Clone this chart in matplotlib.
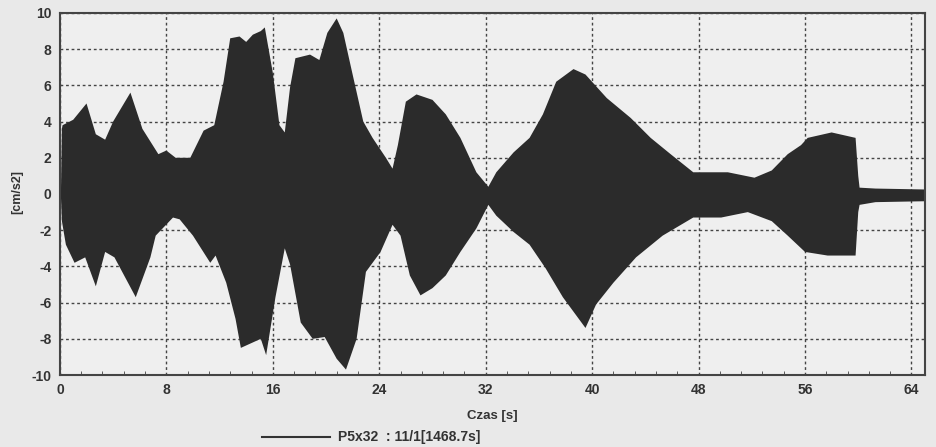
import matplotlib
matplotlib.use("Agg")
import matplotlib.pyplot as plt
from matplotlib.lines import Line2D
from matplotlib.ticker import MultipleLocator

plt.rcParams["axes.unicode_minus"] = False

# Upper envelope of the acceleration record
t_upper = [0.0, 0.08, 0.15, 0.2, 1.0, 2.0, 2.7, 3.4, 4.0, 5.3, 6.2, 7.4, 8.0, 8.7, 9.8, 10.0,
           10.8, 11.6, 12.3, 12.8, 13.5, 14.0, 14.5, 15.1, 15.4, 16.0, 16.5, 16.9, 17.3,
           17.7, 18.8, 19.5, 20.1, 20.8, 21.3, 22.0, 22.8, 23.5, 24.5, 25.0, 25.4, 26.0,
           26.8, 28.0, 29.0, 30.1, 31.3, 32.2, 32.8, 34.1, 35.3, 36.3, 37.3, 38.6, 39.5,
           41.1, 42.9, 44.4, 45.9, 47.6, 48.7, 50.2, 52.2, 53.5, 54.7, 55.7, 56.2, 58.0,
           59.8, 60.0, 60.1, 61.3, 65.0]
a_upper = [0.2, 0.2, 3.6, 3.8, 4.1, 5.0, 3.3, 3.0, 4.0, 5.6, 3.6, 2.2, 2.4, 2.0, 2.0, 2.3,
           3.5, 3.8, 6.2, 8.6, 8.7, 8.4, 8.8, 9.0, 9.2, 6.7, 3.8, 3.4, 5.9,
           7.5, 7.7, 7.4, 8.9, 9.7, 8.9, 6.6, 4.0, 3.1, 2.0, 1.4, 2.7, 5.1,
           5.5, 5.2, 4.4, 3.1, 1.2, 0.4, 1.2, 2.3, 3.1, 4.4, 6.2, 6.9, 6.6,
           5.3, 4.2, 3.1, 2.2, 1.2, 1.2, 1.2, 0.9, 1.3, 2.2, 2.7, 3.1, 3.4,
           3.1, 1.0, 0.35, 0.3, 0.25]

# Lower envelope
t_lower = [0.0, 0.08, 0.15, 0.45, 1.1, 1.9, 2.7, 3.4, 4.1, 5.7, 6.8, 7.2, 8.5, 9.0, 10.0,
           11.3, 11.7, 12.5, 13.2, 13.6, 14.5, 15.1, 15.5, 16.2, 16.9, 17.3, 18.1, 19.0,
           19.9, 20.8, 21.5, 22.3, 23.0, 24.1, 25.0, 25.6, 26.3, 27.1, 28.0, 29.0, 30.1,
           31.3, 32.2, 32.8, 34.1, 35.3, 36.5, 37.8, 38.8, 39.5, 40.3, 41.6, 43.3, 45.3,
           47.6, 49.7, 51.7, 53.5, 54.7, 56.0, 57.7, 59.8, 60.0, 60.1, 61.3, 65.0]
a_lower = [-0.2, -0.2, -1.5, -2.8, -3.8, -3.5, -5.1, -3.2, -3.5, -5.7, -3.5, -2.3, -1.3, -1.4, -2.3,
           -3.8, -3.4, -4.9, -6.9, -8.5, -8.2, -8.0, -8.9, -5.7, -3.0, -3.9, -7.1, -8.0,
           -7.9, -9.1, -9.7, -8.0, -4.3, -3.2, -1.7, -2.3, -4.5, -5.6, -5.2, -4.5, -3.2,
           -1.9, -0.6, -1.2, -2.1, -2.8, -4.1, -5.7, -6.7, -7.4, -6.1, -4.9, -3.5, -2.3,
           -1.3, -1.3, -1.0, -1.5, -2.3, -3.2, -3.4, -3.4, -1.0, -0.6, -0.45, -0.4]

x_ticks = [0, 8, 16, 24, 32, 40, 48, 56, 64]
y_ticks = [-10, -8, -6, -4, -2, 0, 2, 4, 6, 8, 10]

bg = "#e9e9e9"
ink = "#2b2b2b"

fig = plt.figure(figsize=(9.36, 4.47), dpi=100, facecolor=bg)
ax = fig.add_axes([0.064, 0.161, 0.924, 0.81], facecolor="#efefef")
ax.set_axisbelow(True)

# the dense oscillation is drawn as one band: upper envelope out, lower envelope back
ax.fill(t_upper + t_lower[::-1], a_upper + a_lower[::-1], color=ink, linewidth=0, zorder=3)

ax.set_xlim(0, 65)
ax.set_ylim(-10, 10)
ax.set_xticks(x_ticks)
ax.set_yticks(y_ticks)
ax.xaxis.set_minor_locator(MultipleLocator(1.6))
ax.tick_params(which="both", direction="in", color="#444444", length=3)
ax.tick_params(which="major", length=0, pad=6)
ax.grid(True, which="major", linestyle=(0, (2, 2)), color="#444444", linewidth=1.0)

for lab in ax.get_xticklabels() + ax.get_yticklabels():
    lab.set_fontfamily("Liberation Sans")
    lab.set_fontweight("bold")
    lab.set_fontsize(10)
    lab.set_color("#333333")

for s in ax.spines.values():
    s.set_color("#444444")
    s.set_linewidth(1.5)
    s.set_zorder(4)

ax.set_xlabel("Czas [s]", fontsize=9.5, fontfamily="Liberation Sans", fontweight="bold",
              color="#333333", labelpad=9)
fig.text(0.018, 0.57, "[cm/s2]", rotation=90, ha="center", va="center",
         fontsize=9, fontfamily="Liberation Sans", fontweight="bold", color="#333333")

# legend line under the axis title
fig.add_artist(Line2D([0.28, 0.353], [0.022, 0.022], color="#333333", linewidth=1.5,
                      transform=fig.transFigure))
fig.text(0.361, 0.022, "P5x32  : 11/1[1468.7s]", ha="left", va="center",
         fontsize=10, fontfamily="Liberation Sans", fontweight="bold", color="#333333")

fig.savefig("out.png", dpi=100, facecolor=bg)
